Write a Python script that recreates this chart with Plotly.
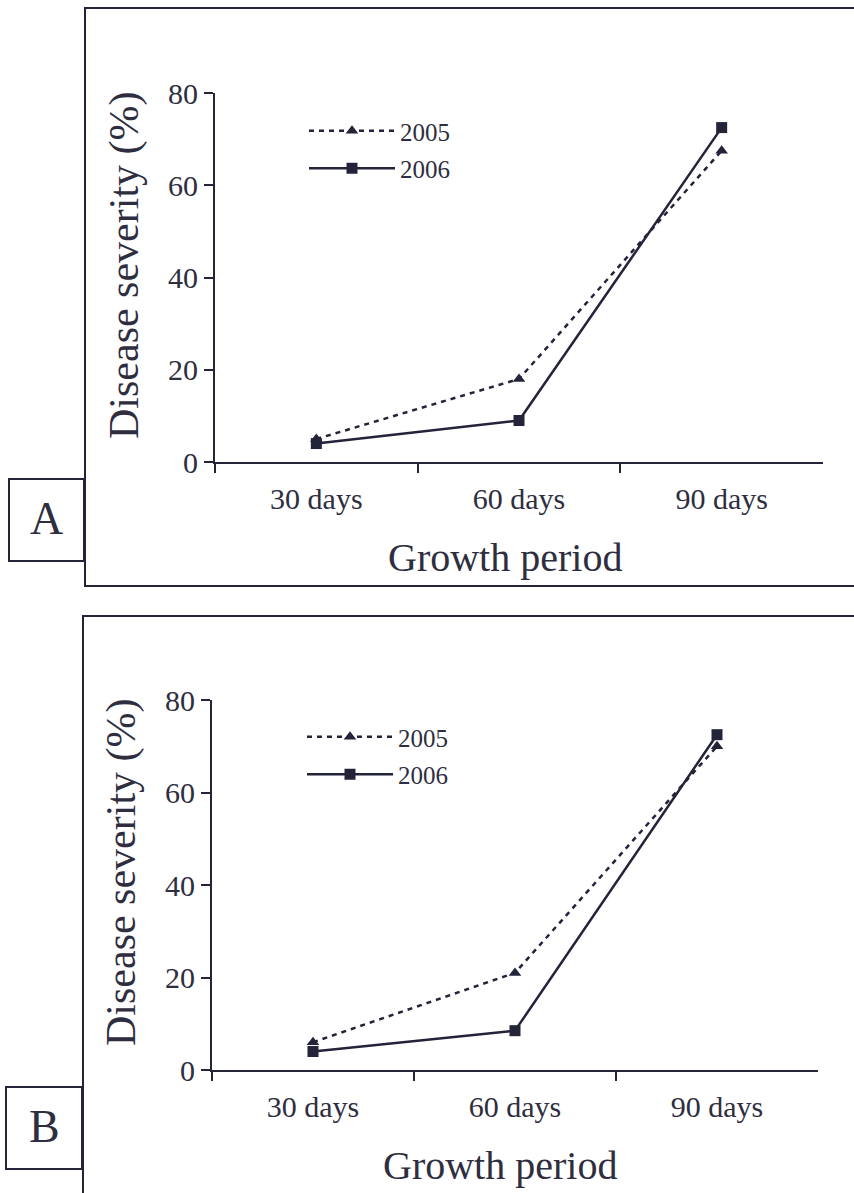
import plotly.graph_objects as go

categories = ["30 days", "60 days", "90 days"]
years = ["2005", "2006"]
a_2005 = [5, 18, 67.5]
a_2006 = [4, 9, 72.5]
b_2005 = [6, 21, 70]
b_2006 = [4, 8.5, 72.5]
y_ticks = [0, 20, 40, 60, 80]
panel_labels = ["A", "B"]

FONT = "Liberation Serif"
INK = "#23233a"
TXT = "#2e2e40"
W, H = 854, 1193

fig = go.Figure()

styles = {
    "2005": dict(line=dict(color=INK, width=2.5, dash="5px,5px"),
                 marker=dict(symbol="triangle-up", size=11, color=INK)),
    "2006": dict(line=dict(color=INK, width=2.5),
                 marker=dict(symbol="square", size=11, color=INK)),
}

panels = [
    dict(x="x", y="y", legend="legend", data={"2005": a_2005, "2006": a_2006}),
    dict(x="x2", y="y2", legend="legend2", data={"2005": b_2005, "2006": b_2006}),
]
for p in panels:
    for yr in years:
        fig.add_trace(go.Scatter(
            x=categories, y=p["data"][yr], name=yr, mode="lines+markers",
            xaxis=p["x"], yaxis=p["y"], legend=p["legend"], legendgroup=p["legend"] + yr,
            **styles[yr]))

def px_x(v):
    return v / W

def px_y(v):
    return 1 - v / H

axis_common = dict(showline=True, linecolor=INK, linewidth=2, ticks="outside",
                   tickcolor=INK, tickwidth=2, ticklen=9, showgrid=False, zeroline=False,
                   automargin=False, tickfont=dict(family=FONT, size=30, color=TXT))

# panel geometry (pixels)
geo = [
    dict(x0=215, x1=823, y0=462, y1=93, title_x=505, title_y=557, ytitle_x=125, ytitle_y=265),
    dict(x0=212, x1=818, y0=1070, y1=700, title_x=500, title_y=1165, ytitle_x=121, ytitle_y=872),
]
annotations = []
for i, g in enumerate(geo):
    sx = "" if i == 0 else "2"
    fig.update_layout(**{
        "xaxis" + sx: dict(axis_common, type="category", range=[-0.5, 2.5], tickson="boundaries",
                           ticklabelstandoff=9,
                           domain=[px_x(g["x0"]), px_x(g["x1"])], anchor="y" + sx),
        "yaxis" + sx: dict(axis_common, range=[0, 80], tickvals=y_ticks,
                           domain=[px_y(g["y0"]), px_y(g["y1"])], anchor="x" + sx),
    })
    annotations.append(dict(text="Growth period", xref="paper", yref="paper",
                            x=px_x(g["title_x"]), y=px_y(g["title_y"]), showarrow=False,
                            xanchor="center", yanchor="middle",
                            font=dict(family=FONT, size=40, color=TXT)))
    annotations.append(dict(text="Disease severity (%)", xref="paper", yref="paper", textangle=-90,
                            x=px_x(g["ytitle_x"]), y=px_y(g["ytitle_y"]), showarrow=False,
                            xanchor="center", yanchor="middle",
                            font=dict(family=FONT, size=42, color=TXT)))

leg_common = dict(font=dict(family=FONT, size=25, color=TXT), bgcolor="rgba(0,0,0,0)",
                  xanchor="left", yanchor="top", tracegroupgap=2, itemwidth=86)
fig.update_layout(
    legend=dict(leg_common, x=px_x(304), y=px_y(108)),
    legend2=dict(leg_common, x=px_x(302), y=px_y(714)),
)

# panel frames and label boxes
shapes = []
frames = [(85, 8, 860, 586), (83, 616, 860, 1200)]
labels_boxes = [(9, 479, 84, 561), (6, 1087, 82, 1169)]
for (x0, y0, x1, y1) in frames:
    shapes.append(dict(type="rect", xref="paper", yref="paper", x0=px_x(x0), x1=px_x(x1),
                       y0=px_y(y1), y1=px_y(y0), line=dict(color=INK, width=2)))
for lab, (x0, y0, x1, y1) in zip(panel_labels, labels_boxes):
    shapes.append(dict(type="rect", xref="paper", yref="paper", x0=px_x(x0), x1=px_x(x1),
                       y0=px_y(y1), y1=px_y(y0), line=dict(color=INK, width=2), fillcolor="white"))
    annotations.append(dict(text=lab, xref="paper", yref="paper", x=px_x((x0 + x1) / 2),
                            y=px_y((y0 + y1) / 2 - 2), showarrow=False,
                            xanchor="center", yanchor="middle",
                            font=dict(family=FONT, size=46, color=TXT)))

fig.update_layout(width=W, height=H, margin=dict(l=0, r=0, t=0, b=0, autoexpand=False),
                  paper_bgcolor="white", plot_bgcolor="white",
                  shapes=shapes, annotations=annotations, showlegend=True)

fig.write_html("out.html", config={"displayModeBar": False},
               post_script="document.body.style.margin='0';document.body.style.overflow='hidden';")
